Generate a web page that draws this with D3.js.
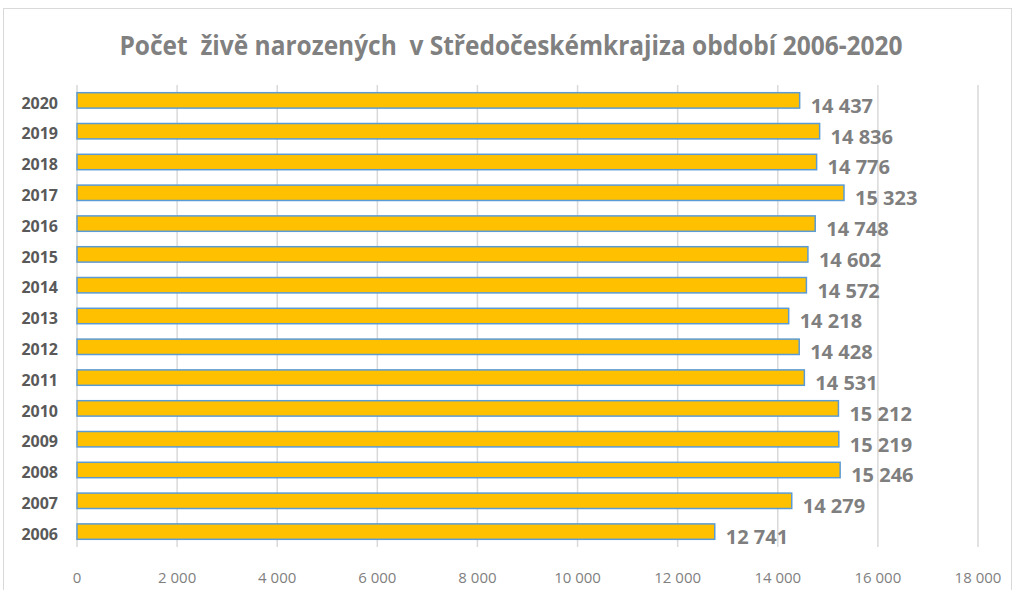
<!DOCTYPE html>
<html>
<head>
<meta charset="utf-8">
<script src="https://cdn.jsdelivr.net/npm/d3@7"></script>
<style>
  html, body { margin: 0; padding: 0; background: #fff; }
  svg { display: block; font-family: "Open Sans", "Noto Sans", sans-serif; }
  text { white-space: pre; }
</style>
</head>
<body>
<div id="chart"></div>
<script>
const title = 'Počet  živě narozených  v Středočeskémkrajiza období 2006-2020';
const years = [2020, 2019, 2018, 2017, 2016, 2015, 2014, 2013, 2012, 2011, 2010, 2009, 2008, 2007, 2006];
const births = [14437, 14836, 14776, 15323, 14748, 14602, 14572, 14218, 14428, 14531, 15212, 15219, 15246, 14279, 12741];
const xTicks = [0, 2000, 4000, 6000, 8000, 10000, 12000, 14000, 16000, 18000];

const W = 1016, H = 590;
const plotL = 77, plotR = 978, plotT = 85, plotB = 547;

const fmt = v => d3.format(',')(v).replace(/,/g, ' ');

const svg = d3.select('#chart').append('svg').attr('width', W).attr('height', H);

// chart frame
svg.append('rect')
  .attr('x', 3.5).attr('y', 8.5).attr('width', 1008).attr('height', 600)
  .attr('fill', '#fff').attr('stroke', '#d9d9d9').attr('stroke-width', 1);

svg.append('text')
  .attr('x', 511).attr('y', 55)
  .attr('text-anchor', 'middle')
  .attr('font-size', 26).attr('font-weight', 'bold')
  .attr('fill', '#808080')
  .attr('textLength', 783).attr('lengthAdjust', 'spacingAndGlyphs')
  .text(title);

const x = d3.scaleLinear().domain([0, 18000]).range([plotL, plotR]);
const y = d3.scaleBand().domain(years).range([plotT, plotB]).paddingInner(0.5).paddingOuter(0.25);

// gridlines
svg.append('g')
  .selectAll('line').data(xTicks).join('line')
  .attr('x1', d => x(d)).attr('x2', d => x(d))
  .attr('y1', plotT).attr('y2', plotB)
  .attr('stroke', '#d9d9d9').attr('stroke-width', 1.5);

// x tick labels
svg.append('g')
  .selectAll('text').data(xTicks).join('text')
  .attr('x', d => x(d)).attr('y', 583)
  .attr('text-anchor', 'middle')
  .attr('font-size', 15).attr('fill', '#7f7f7f')
  .text(d => fmt(d));

// bars
svg.append('g')
  .selectAll('rect').data(years).join('rect')
  .attr('x', x(0))
  .attr('y', d => y(d))
  .attr('width', (d, i) => x(births[i]) - x(0))
  .attr('height', y.bandwidth())
  .attr('fill', '#ffc000')
  .attr('stroke', '#5b9bd5').attr('stroke-width', 1.5);

// year labels
svg.append('g')
  .selectAll('text').data(years).join('text')
  .attr('x', 58).attr('y', d => y(d) + y.bandwidth() / 2 + 4)
  .attr('text-anchor', 'end').attr('dominant-baseline', 'middle')
  .attr('font-size', 16).attr('font-weight', 'bold').attr('fill', '#595959')
  .text(d => d);

// value labels
svg.append('g')
  .selectAll('text').data(years).join('text')
  .attr('x', (d, i) => x(births[i]) + 11)
  .attr('y', d => y(d) + y.bandwidth() / 2 + 7)
  .attr('dominant-baseline', 'middle')
  .attr('font-size', 20).attr('font-weight', 'bold').attr('fill', '#7f7f7f')
  .text((d, i) => fmt(births[i]));
</script>
</body>
</html>
